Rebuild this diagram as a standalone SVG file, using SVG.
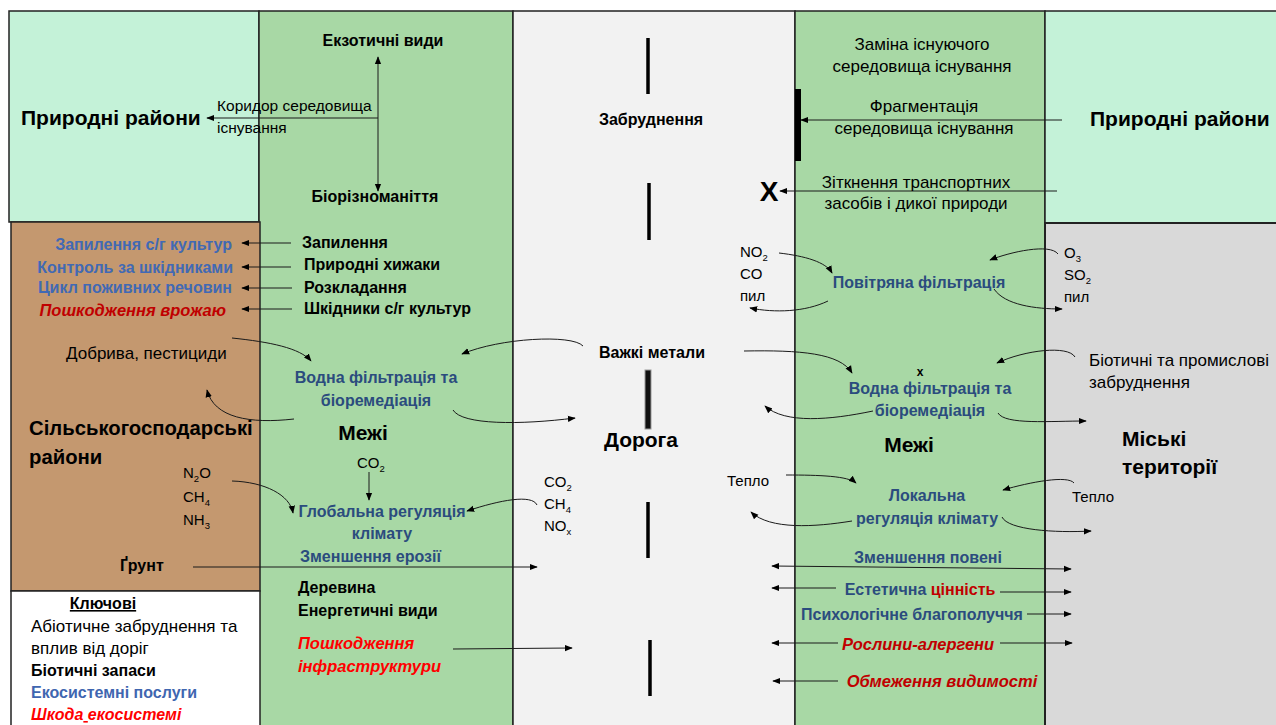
<svg xmlns="http://www.w3.org/2000/svg" width="1276" height="725" viewBox="0 0 1276 725">
<defs>
<style>
.t{font-family:"Liberation Sans",Arial,sans-serif;fill:#000}
.r{font-size:15.5px}
.r17{font-size:17px}
.rs{font-size:15px}
.k{font-size:17px}
.kb{font-size:16px;font-weight:bold}
.b{font-size:16px;font-weight:bold}
.big{font-size:21px;font-weight:bold}
.sv{fill:#2B4C7E;font-weight:bold;font-size:16px}
.sl{fill:#4169B4;font-weight:bold;font-size:16px}
.dm{fill:#C00000;font-weight:bold;font-style:italic;font-size:16.5px}
.dr{fill:#FF0000;font-weight:bold;font-style:italic;font-size:16.5px}
.m{text-anchor:middle}
.e{text-anchor:end}
.c{stroke:#1a1a1a;stroke-width:1;fill:none}
.a{marker-end:url(#ah)}
.aa{marker-end:url(#ah);marker-start:url(#ah)}
.area{stroke:#222;stroke-width:1.5}
.dash{stroke:#000;stroke-width:3.5}
</style>
<marker id="ah" viewBox="0 0 10 10" refX="9" refY="5" markerWidth="8" markerHeight="8" markerUnits="userSpaceOnUse" orient="auto-start-reverse"><path d="M0,1 L10,5 L0,9 z" fill="#000"/></marker>
</defs>
<rect width="1276" height="725" fill="#fff"/>
<g id="areas">
<rect class="area" x="9" y="11" width="250" height="211" fill="#C4F2D8"/>
<rect class="area" x="259" y="11" width="254" height="720" fill="#A8D8A5"/>
<rect class="area" x="513" y="11" width="282" height="720" fill="#F2F2F2"/>
<rect class="area" x="795" y="11" width="250" height="720" fill="#A8D8A5"/>
<rect class="area" x="1045" y="11" width="240" height="212" fill="#C4F2D8"/>
<rect class="area" x="1045" y="223" width="240" height="510" fill="#D9D9D9" style="stroke-width:2"/>
<rect class="area" x="11" y="222" width="249" height="369" fill="#C4986F"/>
<rect class="area" x="11" y="591" width="249" height="140" fill="#FFFFFF"/>
</g>
<g id="road-marks">
<line class="dash" x1="648" y1="38" x2="648" y2="94"/>
<line class="dash" x1="649" y1="183" x2="649" y2="240"/>
<rect x="645" y="370" width="6" height="59" fill="#111" stroke="#999" stroke-width="1"/>
<line class="dash" x1="648" y1="502" x2="648" y2="558"/>
<line class="dash" x1="650" y1="640" x2="650" y2="696"/>
<rect x="795" y="89" width="6" height="72" fill="#000"/>
</g>
<g id="connectors">
<path class="c aa" d="M378,57 L378,191"/>
<path class="c a" d="M378,118 L207,118"/>
<path class="c a" d="M291,243 L242,243"/>
<path class="c a" d="M291,267 L242,267"/>
<path class="c a" d="M292,288 L242,288"/>
<path class="c a" d="M292,309 L242,309"/>
<path class="c a" d="M232,338 C270,342 300,348 311,361"/>
<path class="c a" d="M294,419 C250,424 214,418 207,390"/>
<path class="c a" d="M583,346 C572,334 500,338 462,354"/>
<path class="c a" d="M453,410 C462,425 520,425 575,418"/>
<path class="c a" d="M232,481 C265,482 290,495 293,513"/>
<path class="c a" d="M369,472 L369,500"/>
<path class="c a" d="M537,505 C532,494 500,500 467,511"/>
<path class="c a" d="M193,567 L537,567"/>
<path class="c a" d="M453,649 L572,648"/>
<path class="c a" d="M779,253 C805,256 826,262 832,273"/>
<path class="c a" d="M828,301 C805,312 775,313 750,308"/>
<path class="c a" d="M1058,254 C1050,243 1010,252 990,260"/>
<path class="c a" d="M994,289 C1005,305 1035,309 1062,309"/>
<path class="c a" d="M744,351 C800,350 840,353 852,373"/>
<path class="c a" d="M1075,357 C1068,345 1025,350 997,363"/>
<path class="c a" d="M873,411 C830,420 785,424 765,406"/>
<path class="c a" d="M998,413 C1005,425 1050,421 1086,421"/>
<path class="c a" d="M786,475 C820,475 848,476 856,483"/>
<path class="c a" d="M1074,483 C1068,475 1030,482 1003,490"/>
<path class="c a" d="M852,521 C815,527 770,530 751,512"/>
<path class="c a" d="M1002,517 C1008,530 1055,533 1091,531"/>
<path class="c aa" d="M772,566 L1071,569"/>
<path class="c a" d="M836,588 L772,588"/>
<path class="c a" d="M1000,592 L1071,592"/>
<path class="c a" d="M1027,614 L1071,614"/>
<path class="c a" d="M838,643 L772,643"/>
<path class="c a" d="M1000,643 L1072,643"/>
<path class="c a" d="M838,681 L773,681"/>
<path class="c a" d="M1062,120 L801,120"/>
<path class="c a" d="M1057,191 L780,191"/>
</g>
<g id="natural-left"><text class="t big" x="21" y="125">Природні райони</text></g>
<g id="natural-right"><text class="t big" x="1090" y="126">Природні райони</text></g>
<g id="corridor"><text class="t r" x="217" y="111">Коридор середовища</text><text class="t r" x="217" y="133">існування</text></g>
<g id="exotic"><text class="t b m" x="383" y="46">Екзотичні види</text></g>
<g id="biodiversity"><text class="t b m" x="375" y="202">Біорізноманіття</text></g>
<g id="biotic-list">
<text class="t b" x="302" y="248">Запилення</text>
<text class="t b" x="304" y="270">Природні хижаки</text>
<text class="t b" x="304" y="293">Розкладання</text>
<text class="t b" x="304" y="314">Шкідники с/г культур</text>
</g>
<g id="agri-services">
<text class="t sl e" x="232" y="250">Запилення с/г культур</text>
<text class="t sl e" x="233" y="273">Контроль за шкідниками</text>
<text class="t sl e" x="232" y="293">Цикл поживних речовин</text>
<text class="t dm e" x="226" y="316">Пошкодження врожаю</text>
</g>
<g id="fertilizers"><text class="t r17" x="66" y="359">Добрива, пестициди</text></g>
<g id="water-left"><text class="t sv m" x="376" y="383">Водна фільтрація та</text><text class="t sv m" x="376" y="406">біоремедіація</text></g>
<g id="agri-area"><text class="t big" x="29" y="435" style="font-size:20.3px">Сільськогосподарські</text><text class="t big" x="29" y="464" style="font-size:20.3px">райони</text></g>
<g id="edge-left"><text class="t big m" x="363" y="440">Межі</text></g>
<g id="co2-left"><text class="t rs" x="357" y="468">CO<tspan font-size="9.5" dy="4">2</tspan></text></g>
<g id="agri-gases">
<text class="t rs" x="183" y="478">N<tspan font-size="9.5" dy="4">2</tspan><tspan dy="-4">O</tspan></text>
<text class="t rs" x="183" y="502">CH<tspan font-size="9.5" dy="4">4</tspan></text>
<text class="t rs" x="183" y="525">NH<tspan font-size="9.5" dy="4">3</tspan></text>
</g>
<g id="climate-global"><text class="t sv m" x="382" y="517">Глобальна регуляція</text><text class="t sv m" x="382" y="539">клімату</text></g>
<g id="erosion"><text class="t sv" x="300" y="562">Зменшення ерозії</text></g>
<g id="soil"><text class="t b" x="120" y="571">Ґрунт</text></g>
<g id="timber"><text class="t b" x="298" y="593">Деревина</text><text class="t b" x="298" y="616">Енергетичні види</text></g>
<g id="infra-damage"><text class="t dr" x="298" y="649">Пошкодження</text><text class="t dr" x="298" y="672">інфраструктури</text></g>
<g id="key">
<text class="t kb" x="103" y="609" text-anchor="middle" text-decoration="underline">Ключові</text>
<text class="t k" x="31" y="632">Абіотичне забруднення та</text>
<text class="t k" x="31" y="654">вплив від доріг</text>
<text class="t kb" x="31" y="676">Біотичні запаси</text>
<text class="t kb" x="31" y="698" style="fill:#3F66B0">Екосистемні послуги</text>
<text class="t kb" x="31" y="720" style="fill:#FF0000;font-style:italic">Шкода<tspan text-decoration="underline"> </tspan>екосистемі</text>
</g>
<g id="pollution"><text class="t b m" x="651" y="125">Забруднення</text></g>
<g id="metals"><text class="t b m" x="652" y="358">Важкі метали</text></g>
<g id="road"><text class="t big m" x="641" y="447">Дорога</text></g>
<g id="road-air"><text class="t rs" x="740" y="257">NO<tspan font-size="9.5" dy="4">2</tspan></text><text class="t rs" x="740" y="279">CO</text><text class="t rs" x="740" y="301">пил</text></g>
<g id="road-gases">
<text class="t rs" x="544" y="487">CO<tspan font-size="9.5" dy="4">2</tspan></text>
<text class="t rs" x="544" y="509">CH<tspan font-size="9.5" dy="4">4</tspan></text>
<text class="t rs" x="544" y="531">NO<tspan font-size="9.5" dy="4">x</tspan></text>
</g>
<g id="heat-left"><text class="t rs" x="727" y="486">Тепло</text></g>
<g id="collision-x"><text class="t m" x="769" y="201" font-size="28" font-weight="bold">X</text></g>
<g id="replacement"><text class="t r17 m" x="922" y="50">Заміна існуючого</text><text class="t r17 m" x="922" y="72">середовища існування</text></g>
<g id="fragmentation"><text class="t r17 m" x="924" y="112">Фрагментація</text><text class="t r17 m" x="924" y="134">середовища існування</text></g>
<g id="collisions"><text class="t r17 m" x="916" y="188">Зіткнення транспортних</text><text class="t r17 m" x="916" y="209">засобів і дикої природи</text></g>
<g id="air-filtration"><text class="t sv m" x="919" y="288">Повітряна фільтрація</text></g>
<g id="urban-air"><text class="t rs" x="1064" y="258">O<tspan font-size="9.5" dy="4">3</tspan></text><text class="t rs" x="1064" y="280">SO<tspan font-size="9.5" dy="4">2</tspan></text><text class="t rs" x="1064" y="302">пил</text></g>
<g id="x-mark"><text class="t m" x="920" y="376" font-size="12" font-weight="bold">x</text></g>
<g id="water-right"><text class="t sv m" x="930" y="394">Водна фільтрація та</text><text class="t sv m" x="930" y="416">біоремедіація</text></g>
<g id="urban-pollution"><text class="t r17" x="1089" y="366">Біотичні та промислові</text><text class="t r17" x="1089" y="388">забруднення</text></g>
<g id="edge-right"><text class="t big m" x="909" y="452">Межі</text></g>
<g id="urban"><text class="t big" x="1122" y="446">Міські</text><text class="t big" x="1122" y="474">території</text></g>
<g id="climate-local"><text class="t sv m" x="927" y="501">Локальна</text><text class="t sv m" x="927" y="524">регуляція клімату</text></g>
<g id="heat-right"><text class="t rs" x="1072" y="502">Тепло</text></g>
<g id="flood"><text class="t sv m" x="928" y="563">Зменшення повені</text></g>
<g id="aesthetic"><text class="t sv m" x="920" y="595">Естетична <tspan style="fill:#C00000">цінність</tspan></text></g>
<g id="wellbeing"><text class="t sv m" x="912" y="620">Психологічне благополуччя</text></g>
<g id="allergens"><text class="t dm m" x="918" y="650">Рослини-алергени</text></g>
<g id="visibility"><text class="t dm m" x="942" y="687">Обмеження видимості</text></g>
</svg>
